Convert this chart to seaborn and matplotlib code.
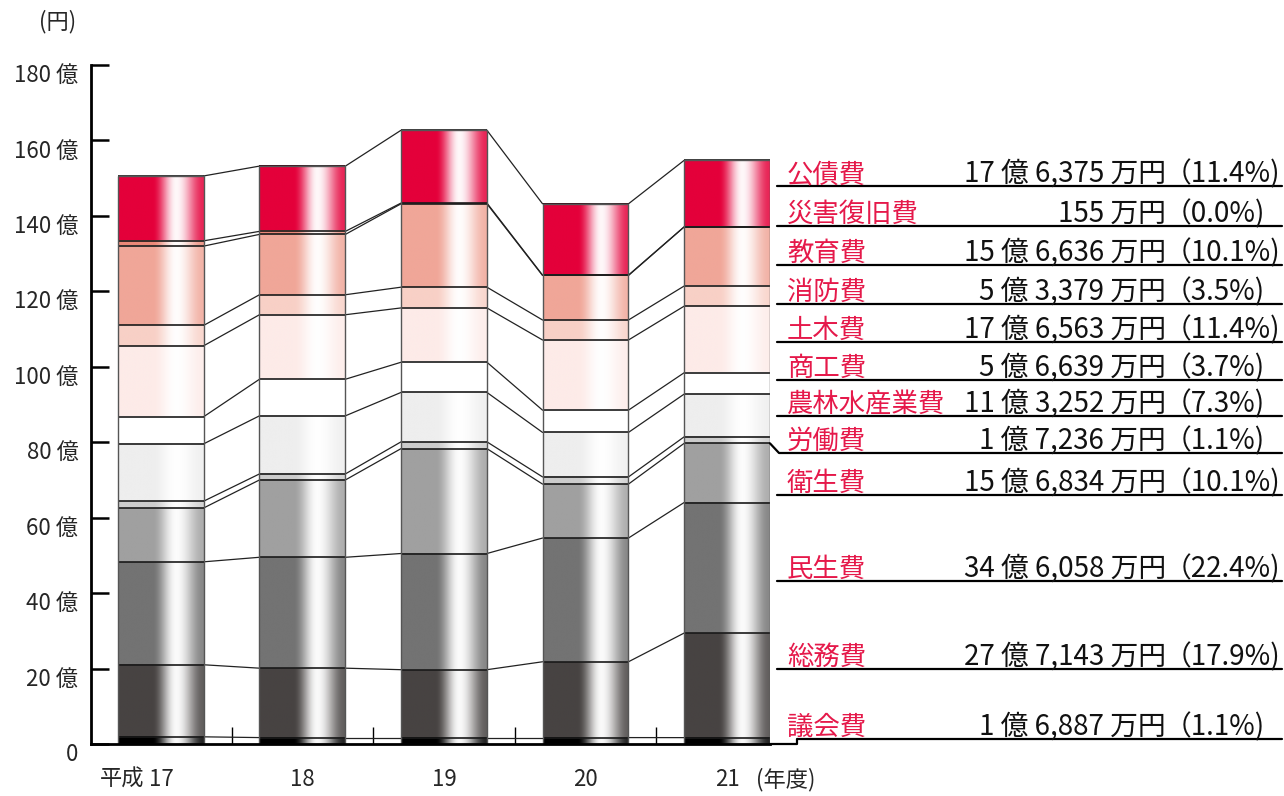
import numpy as np
import pandas as pd
import seaborn as sns
import matplotlib.pyplot as plt
import matplotlib.colors as mcolors
from matplotlib.lines import Line2D
from matplotlib.patches import Rectangle
from matplotlib.transforms import ScaledTranslation

years = ["17", "18", "19", "20", "21"]

# 歳出の内訳（億円）、下から上の順
gikai  = [1.9, 1.7, 1.7, 1.7, 1.6887]       # 議会費
somu   = [19.1, 18.4, 18.0, 20.1, 27.7143]  # 総務費
minsei = [27.3, 29.4, 30.8, 32.8, 34.6058]  # 民生費
eisei  = [14.3, 20.5, 27.8, 14.3, 15.6834]  # 衛生費
rodo   = [1.8, 1.6, 1.8, 1.9, 1.7236]       # 労働費
norin  = [15.2, 15.4, 13.1, 11.8, 11.3252]  # 農林水産業費
shoko  = [7.2, 9.7, 8.0, 5.9, 5.6639]       # 商工費
doboku = [18.8, 17.1, 14.4, 18.6, 17.6563]  # 土木費
shobo  = [5.4, 5.3, 5.5, 5.3, 5.3379]       # 消防費
kyoiku = [21.0, 16.0, 22.1, 11.8, 15.6636]  # 教育費
saigai = [1.4, 0.8, 0.2, 0.1, 0.0155]       # 災害復旧費
kosai  = [17.2, 17.3, 19.3, 18.9, 17.6375]  # 公債費

layers = [gikai, somu, minsei, eisei, rodo, norin, shoko, doboku, shobo, kyoiku, saigai, kosai]
colors = ["#000000", "#474342", "#737373", "#a0a0a0", "#cccccc", "#eeeeee",
          "#ffffff", "#fdebe8", "#f8d0c6", "#f0a698", "#ec8878", "#e4003a"]

# 右側の凡例（平成21年度）、上から下の順
names = ["公債費", "災害復旧費", "教育費", "消防費", "土木費", "商工費",
         "農林水産業費", "労働費", "衛生費", "民生費", "総務費", "議会費"]
amounts = ["17 億 6,375 万円", "155 万円", "15 億 6,636 万円", "5 億 3,379 万円",
           "17 億 6,563 万円", "5 億 6,639 万円", "11 億 3,252 万円", "1 億 7,236 万円",
           "15 億 6,834 万円", "34 億 6,058 万円", "27 億 7,143 万円", "1 億 6,887 万円"]
shares = ["（11.4%)", "（0.0%)", "（10.1%)", "（3.5%)", "（11.4%)", "（3.7%)",
          "（7.3%)", "（1.1%)", "（10.1%)", "（22.4%)", "（17.9%)", "（1.1%)"]
# underline rows (pixel y in the 1284x796 canvas)
row_y = [186, 226, 265, 304, 342, 380, 416, 453, 495, 581, 669, 739]

W, H = 1284, 796
def fx(px):
    return px / W
def fy(py):
    return 1 - py / H

sns.set_theme(style="white")
plt.rcParams["font.family"] = ["Liberation Sans Narrow", "Noto Sans CJK JP", "DejaVu Sans"]
red_txt = "#e5194a"

vals = np.array(layers)
cum = np.cumsum(vals, axis=0)

fig = plt.figure(figsize=(W / 100, H / 100), dpi=100)
ax = fig.add_axes([fx(91), fy(744), (770 - 91) / W, (744 - 65) / H])

bar_w = 0.607


def shade(color, n=240):
    base = np.array(mcolors.to_rgb(color))
    t = np.linspace(0, 1, n)
    w = np.zeros(n)
    up = (t > 0.40) & (t <= 0.68)
    w[up] = 0.5 - 0.5 * np.cos(np.pi * (t[up] - 0.40) / 0.28)
    dn = t > 0.68
    w[dn] = 1 - 0.85 * (0.5 - 0.5 * np.cos(np.pi * (t[dn] - 0.68) / 0.32))
    w *= 0.97
    rgb = base * (1 - w[:, None]) + w[:, None]
    return rgb[None, :, :]


# stacked bars: cumulative totals drawn from the top layer down
df = pd.DataFrame({"year": years})
layer_patches = {}
for i in range(len(layers) - 1, -1, -1):
    df["top"] = cum[i]
    sns.barplot(data=df, x="year", y="top", order=years, color=colors[i], saturation=1,
                width=bar_w, errorbar=None, linewidth=0, zorder=1, ax=ax)
    layer_patches[i] = list(ax.containers[-1])

for i, patches in layer_patches.items():
    img = shade(colors[i])
    for j, p in enumerate(patches):
        x0, w = p.get_x(), p.get_width()
        y1 = cum[i][j]
        y0 = y1 - vals[i][j]
        ax.imshow(img, extent=(x0, x0 + w, y0, y1), aspect="auto",
                  interpolation="bilinear", zorder=2)
        ax.plot([x0, x0 + w], [y1, y1], color="#1a1a1a", lw=1.2, zorder=4,
                solid_capstyle="butt")
        # connectors to the next year
        if j < len(patches) - 1:
            q = patches[j + 1]
            ax.plot([x0 + w, q.get_x()], [y1, cum[i][j + 1]], color="#222222",
                    lw=0.9, zorder=3)

for p in layer_patches[len(layers) - 1]:
    ax.add_patch(Rectangle((p.get_x(), 0), p.get_width(), p.get_height(), fill=False,
                           ec="#555555", lw=1.0, zorder=4))

ax.set_xlim(-0.494, 4.3035)
ax.set_ylim(0, 180)
ax.set_xlabel("")
ax.set_ylabel("")

for s in ["top", "right"]:
    ax.spines[s].set_visible(False)
for s in ["left", "bottom"]:
    ax.spines[s].set_color("black")
    ax.spines[s].set_linewidth(2)
    ax.spines[s].set_zorder(6)

yt = list(range(0, 181, 20))
ax.set_yticks(yt)
ax.set_yticklabels(["0"] + [f"{v} 億" for v in yt[1:]])
ax.tick_params(axis="y", direction="in", length=13, width=1.8, color="black",
               pad=9, labelsize=16, left=True)
for lbl in ax.get_yticklabels():
    lbl.set_transform(lbl.get_transform() + ScaledTranslation(0, -0.08, fig.dpi_scale_trans))

ax.set_xticks(range(len(years)))
ax.set_xticklabels(years)
ax.set_xticks([0.5, 1.5, 2.5, 3.5], minor=True)
ax.tick_params(axis="x", which="major", length=0, pad=17, labelsize=16)
ax.tick_params(axis="x", which="minor", direction="in", length=12.5, width=1.0,
               color="black", bottom=True)

ax.annotate("平成", xy=(0, 0), xycoords=("data", "axes fraction"), xytext=(-12, -17),
            textcoords="offset points", ha="right", va="top", fontsize=16)
ax.annotate("(年度)", xy=(4, 0), xycoords=("data", "axes fraction"), xytext=(21, -17),
            textcoords="offset points", ha="left", va="top", fontsize=16)
fig.text(fx(58), fy(22), "(円)", ha="center", va="center", fontsize=16)

# right-hand legend rows
for k in range(len(names)):
    yb = fy(row_y[k] - 4)
    fig.text(fx(787), yb, names[k], color=red_txt, ha="left", va="baseline", fontsize=19)
    fig.text(fx(1166), yb, amounts[k], color="#111111", ha="right", va="baseline", fontsize=20)
    fig.text(fx(1164), yb, shares[k], color="#111111", ha="left", va="baseline", fontsize=20)
    if names[k] in ("労働費", "議会費"):
        continue
    fig.add_artist(Line2D([fx(777), fx(1282)], [fy(row_y[k]), fy(row_y[k])],
                          color="black", lw=1.6))

fig.canvas.draw()
to_fig = fig.transFigure.inverted()
last = layer_patches[0][-1]
xr = last.get_x() + last.get_width()

# 労働費 row hooks onto the bar of 平成21
pa = to_fig.transform(ax.transData.transform((xr, cum[3][-1])))
k = names.index("労働費")
fig.add_artist(Line2D([pa[0], fx(779), fx(1282)], [pa[1], fy(row_y[k]), fy(row_y[k])],
                      color="black", lw=1.6))

# 議会費 row joins the baseline
b0 = to_fig.transform(ax.transData.transform((xr, 0)))
k = names.index("議会費")
fig.add_artist(Line2D([b0[0], fx(797), fx(797), fx(1282)],
                      [b0[1], b0[1], fy(row_y[k]), fy(row_y[k])],
                      color="black", lw=1.6))

fig.savefig("out.png", dpi=100)
